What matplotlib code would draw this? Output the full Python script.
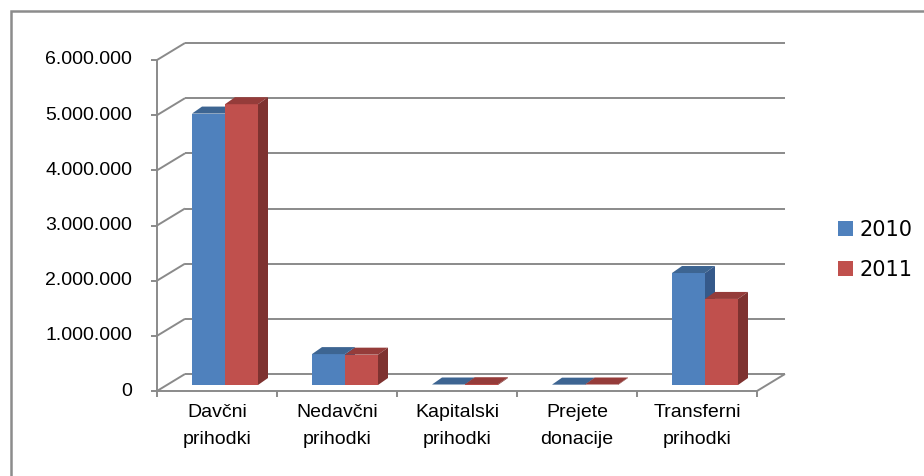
import matplotlib
matplotlib.use("Agg")
import matplotlib.pyplot as plt
from matplotlib.patches import Polygon, Rectangle
from matplotlib.lines import Line2D
from matplotlib.transforms import IdentityTransform

# data
categories = ["Davčni\nprihodki", "Nedavčni\nprihodki", "Kapitalski\nprihodki",
              "Prejete\ndonacije", "Transferni\nprihodki"]
years = ["2010", "2011"]
values_2010 = [4920000, 560000, 9000, 6000, 2030000]
values_2011 = [5090000, 550000, 14000, 9000, 1560000]
yticks = [0, 1000000, 2000000, 3000000, 4000000, 5000000, 6000000]
ytick_labels = ["0", "1.000.000", "2.000.000", "3.000.000",
                "4.000.000", "5.000.000", "6.000.000"]

face_cols = {"2010": ("#4F81BD", "#3D6592", "#35598A"),
             "2011": ("#C0504D", "#953C3A", "#7E3230")}

W, H = 924, 476
fig = plt.figure(figsize=(W / 100, H / 100), dpi=100)
ax = fig.add_axes([157 / W, (H - 391) / H, 600 / W, 331 / H])
ax.set_xlim(-0.5, 4.5)
ax.set_ylim(0, 6000000)
ax.axis("off")

# pixel offsets for the fake 3d depth
WALL = (28, 17)      # back wall relative to front plane
BARF = (8, 6)        # bar front face relative to front plane
BARD = (10, 7)       # bar depth
GRID = "#8a8a8a"
ident = IdentityTransform()


def px(x, y, off=(0, 0)):
    dx, dy = ax.transData.transform((x, y))
    return dx + off[0], dy + off[1]


def line(p0, p1, color=GRID, lw=1.4, z=1):
    fig.add_artist(Line2D([p0[0], p1[0]], [p0[1], p1[1]], color=color, lw=lw,
                          transform=ident, zorder=z, solid_capstyle="butt"))


# outer chart border
fig.add_artist(Rectangle((11 / W, -0.1), 1.2, (H - 11) / H + 0.1, fill=False,
                         edgecolor="#8c8c8c", lw=1.8, transform=fig.transFigure))

# back wall gridlines + left wall diagonals + y ticks
for v, lab in zip(yticks, ytick_labels):
    line(px(-0.5, v, WALL), px(4.5, v, WALL))
    line(px(-0.5, v), px(-0.5, v, WALL))
    line(px(-0.5, v, (-6, 0)), px(-0.5, v))
    tx, ty = px(-0.5, v, (-25, 0))
    fig.text(tx / W, ty / H, lab, ha="right", va="center", fontsize=14,
             family="Liberation Sans")

# front y axis, floor front edge, floor right edge
line(px(-0.5, 0), px(-0.5, 6000000))
line(px(-0.5, 0), px(4.5, 0))
line(px(4.5, 0), px(4.5, 0, WALL))
for i in range(len(categories) + 1):
    line(px(i - 0.5, 0), px(i - 0.5, 0, (0, -6)))

# category labels
for i, c in enumerate(categories):
    tx, ty = px(i, 0, (0, -13))
    fig.text(tx / W, ty / H, c, ha="center", va="top", fontsize=14,
             family="Liberation Sans", linespacing=1.78)

# bars: front face, top face, side face
bw = 0.275
for i in range(len(categories)):
    for j, (yr, vals) in enumerate(zip(years, [values_2010, values_2011])):
        front, top, side = face_cols[yr]
        x0 = i - bw + j * bw
        x1 = x0 + bw
        v = vals[i]
        a = px(x0, 0, BARF)
        b = px(x1, 0, BARF)
        c = px(x1, v, BARF)
        d = px(x0, v, BARF)
        sh = lambda p: (p[0] + BARD[0], p[1] + BARD[1])
        fig.add_artist(Polygon([a, b, c, d], closed=True, facecolor=front,
                               edgecolor="none", transform=ident, zorder=3))
        fig.add_artist(Polygon([d, c, sh(c), sh(d)], closed=True, facecolor=top,
                               edgecolor="none", transform=ident, zorder=3))
        fig.add_artist(Polygon([b, sh(b), sh(c), c], closed=True, facecolor=side,
                               edgecolor="none", transform=ident, zorder=3))

# legend
handles = [Rectangle((0, 0), 1, 1, facecolor=face_cols[y][0]) for y in years]
fig.legend(handles, years, loc="upper left", bbox_to_anchor=(819 / W, (H - 201) / H),
           frameon=False, handlelength=0.75, handleheight=0.75,
           handletextpad=0.3, labelspacing=0.95, prop={"family": "DejaVu Sans", "size": 15})

fig.savefig("out.png", dpi=100)
